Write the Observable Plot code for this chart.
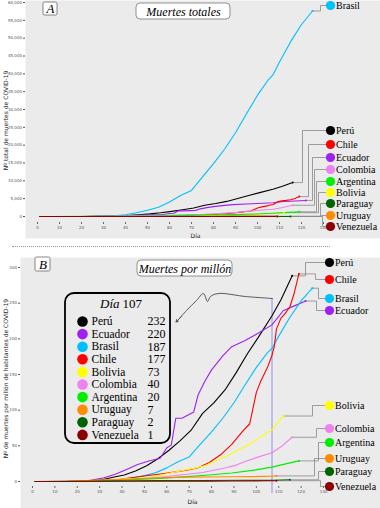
<!DOCTYPE html>
<html><head><meta charset="utf-8">
<script src="https://cdn.jsdelivr.net/npm/d3@7"></script>
<script src="https://cdn.jsdelivr.net/npm/@observablehq/plot@0.6"></script>
<style>
body{margin:0;background:#fff;width:380px;height:508px;overflow:hidden;position:relative}
#a{position:absolute;left:0;top:0}
#sep{position:absolute;left:12px;top:246px;width:318px;border-top:1px dotted #999}
#b{position:absolute;left:0;top:250px}
</style></head><body>
<div id="a"></div><div id="sep"></div><div id="b"></div>
<script>
// ---------- DATA ----------
const paises  = ["Perú","Ecuador","Brasil","Chile","Bolivia","Colombia","Argentina","Uruguay","Paraguay","Venezuela"];
const colores = ["#000000","#a020f0","#00bfff","#ff0000","#ffff00","#ee82ee","#00ee00","#ff8c00","#006400","#8b0000"];
const valoresDia107 = [232,220,187,177,73,40,20,7,2,1];
const ticksX = [0,10,20,30,40,50,60,70,80,90,100,110,120,130];
const ticksYA = [0,5000,10000,15000,20000,25000,30000,35000,40000,45000,50000,55000,60000];
const ticksYB = [0,50,100,150,200,250,300];

const dias_brasil    = [1,20,25,30,35,40,45,50,55,60,65,70,75,80,85,90,95,100,105,107,110,115,120,125];
const muertes_brasil = [0,0,18,77,201,486,1056,1736,2587,4057,5901,7321,11123,14817,18859,23473,28834,34021,38406,39680,43332,48954,53830,57622];
const pm_brasil      = [0,0,0.1,0.4,0.9,2.3,5.0,8.2,12.2,19.1,27.8,34.4,52.3,69.7,88.7,110.4,135.6,160.0,180.6,186.6,203.8,230.3,253.2,271];

const dias_peru    = [1,14,20,26,31,36,41,46,51,56,61,66,71,76,81,86,91,96,101,107,111,116];
const muertes_peru = [0,1,7,24,83,193,300,484,728,1051,1444,1889,2392,3148,3629,4230,5031,5903,6688,7660,8404,9504];
const pm_peru      = [0,0.03,0.2,0.7,2.5,5.9,9.1,14.7,22.1,31.9,43.8,57.3,72.5,95.5,110.1,128.3,152.6,179.0,202.8,232.3,254.9,288.3];

const dias_ecuador    = [1,14,21,26,32,37,42,47,52,57,60,62,64,67,72,74,77,80,85,89,95,100,107,112,117,122];
const muertes_ecuador = [0,2,5,29,93,180,297,421,507,576,835,900,1564,1569,1717,2145,2480,2760,3108,3334,3486,3642,3874,4223,4343,4502];
const pm_ecuador      = [0,0.1,0.3,1.6,5.3,10.2,16.8,23.9,28.7,32.7,47.3,51.0,88.7,88.9,97.3,121.6,140.6,156.5,176.2,189.0,197.6,206.5,219.6,239.4,246.2,253];

const dias_chile    = [1,19,29,39,49,59,69,74,79,84,89,94,97,98,100,102,105,107,108,109,111,113,115,117,119];
const muertes_chile = [0,1,12,57,139,216,304,368,509,716,997,1356,1541,1816,2390,2696,3060,3383,3615,4093,4380,4512,4685,5068,5575];
const pm_chile      = [0,0.05,0.6,3.0,7.3,11.3,15.9,19.2,26.6,37.4,52.1,70.9,80.6,95,125,141,160,177,189,214,229,236,245,265,291];

const dias_colombia    = [1,16,26,36,46,56,66,76,86,91,96,101,107,111,116];
const muertes_colombia = [0,1,16,100,179,278,463,640,967,1170,1475,1755,2045,2473,3155];
const pm_colombia      = [0,0.02,0.3,2.0,3.5,5.5,9.1,12.6,19.0,23.0,29.0,34.5,40.2,48.6,62.0];

const dias_argentina    = [1,5,29,39,49,59,69,79,89,99,107,114,119];
const muertes_argentina = [0,1,27,83,147,214,314,416,539,717,913,1150,1307];
const pm_argentina      = [0,0.02,0.6,1.8,3.3,4.7,6.9,9.2,11.9,15.9,20.2,25.4,28.9];

const dias_bolivia    = [1,20,32,42,52,62,72,77,82,87,92,97,102,107,112];
const muertes_bolivia = [0,1,20,43,62,142,215,257,343,420,514,609,734,846,1071];
const pm_bolivia      = [0,0.1,1.7,3.7,5.3,12.2,18.4,22,29.4,36,44,52.2,62.9,72.5,91.8];

const dias_uruguay    = [1,16,29,39,49,59,69,79,89,99,107,109];
const muertes_uruguay = [0,1,7,10,15,19,21,22,23,24,26,27];
const pm_uruguay      = [0,0.3,2.0,2.9,4.3,5.5,6.1,6.3,6.6,6.9,7.5,7.8];

const dias_paraguay    = [1,14,25,35,45,55,75,95,107,115];
const muertes_paraguay = [0,1,3,6,8,9,11,13,13,17];
const pm_paraguay      = [0,0.14,0.4,0.8,1.1,1.3,1.5,1.8,1.8,2.4];

const dias_venezuela    = [1,14,29,49,69,79,89,99,107,109];
const muertes_venezuela = [0,1,9,10,10,14,22,26,28,31];
const pm_venezuela      = [0,0.04,0.3,0.35,0.35,0.5,0.8,0.9,1.0,1.1];

// ---------- LAYOUT ----------
const series = {
  "Perú":[dias_peru,muertes_peru,pm_peru],
  "Ecuador":[dias_ecuador,muertes_ecuador,pm_ecuador],
  "Brasil":[dias_brasil,muertes_brasil,pm_brasil],
  "Chile":[dias_chile,muertes_chile,pm_chile],
  "Bolivia":[dias_bolivia,muertes_bolivia,pm_bolivia],
  "Colombia":[dias_colombia,muertes_colombia,pm_colombia],
  "Argentina":[dias_argentina,muertes_argentina,pm_argentina],
  "Uruguay":[dias_uruguay,muertes_uruguay,pm_uruguay],
  "Paraguay":[dias_paraguay,muertes_paraguay,pm_paraguay],
  "Venezuela":[dias_venezuela,muertes_venezuela,pm_venezuela]
};
const serif = "'Liberation Serif','DejaVu Serif',serif";
const sans = "'DejaVu Sans',sans-serif";
const bg = "#ebebeb";
const color = {domain: paises, range: colores};

// label slots (pixel y) and elbow x (pixel)
const slotsA = {"Brasil":[5,320],"Perú":[130,302],"Chile":[144,308],"Ecuador":[157,312],"Colombia":[169,314],"Argentina":[181,316],"Bolivia":[192,318],"Paraguay":[203,320],"Uruguay":[215,321],"Venezuela":[226,322]};
const slotsB = {"Perú":[12,305],"Chile":[29,315],"Brasil":[48,318],"Ecuador":[60,316],"Bolivia":[155,312],"Colombia":[178,316],"Argentina":[192,318],"Uruguay":[208,314],"Paraguay":[221,318],"Venezuela":[236,320]};

function panel(k, opts) {
  const {xr, yd, yr, height, mL, mT, mB, insB, ticksY, fmt, slots, labX, ylab, ylabY, diaX, diaY, letter, letterBox, title, titleBox} = opts;
  const sx = d3.scaleLinear([0,130], xr), sy = d3.scaleLinear(yd, yr);
  const ix = p => sx.invert(p), iy = p => sy.invert(p);
  const filas = paises.flatMap(p => series[p][0].map((d,i)=>({pais:p, dia:d, v:series[p][k][i]})));
  const ult = paises.map(p => {const s=series[p]; const n=s[0].length-1; return {pais:p, dia:s[0][n], v:s[k][n]};});
  const conn = ult.flatMap(e => {const [py,px]=slots[e.pais]; return [
    {pais:e.pais, x:e.dia, y:e.v},{pais:e.pais, x:ix(px), y:e.v},{pais:e.pais, x:ix(px), y:iy(py)},{pais:e.pais, x:ix(labX-4), y:iy(py)}];});
  const labs = paises.map(p => ({pais:p, y: iy(slots[p][0])}));
  const marks = [
    Plot.frame({fill: bg, insetBottom: insB}),
    Plot.axisX({ticks: ticksX, tickSize: 2, tickPadding: 2, fontSize: 4, fontFamily: sans, stroke:"#666", color:"#555"}),
    Plot.axisY({ticks: ticksY, tickFormat: fmt, tickSize: 2, tickPadding: 1.5, fontSize: 4, fontFamily: sans, color:"#555"}),
    Plot.text(["Día"], {x: ix(diaX), y: iy(diaY), fontSize: 6, fontFamily: sans, fill:"#222"}),
    Plot.text([ylab], {x: ix(6), y: iy(ylabY), rotate: -90, fontSize: 6, fontFamily: sans, fill:"#222"}),
    ...(opts.extraBelow ? opts.extraBelow(ix, iy) : []),
    Plot.line(conn, {x:"x", y:"y", z:"pais", stroke:"#888", strokeWidth:0.8}),
    Plot.line(filas, {x:"dia", y:"v", z:"pais", stroke:"pais", strokeWidth:1.1}),
    Plot.dot(ult, {x:"dia", y:"v", r:1, fill:"pais"}),
    Plot.dot(labs, {x: ix(labX), y:"y", r:4.6, fill:"pais"}),
    Plot.text(labs, {x: ix(labX+5.5), y:"y", text:"pais", textAnchor:"start", fontSize:10, fontFamily: serif, fill:"#000"}),
    Plot.rect([0], {x1: ix(letterBox[0]), x2: ix(letterBox[1]), y1: iy(letterBox[3]), y2: iy(letterBox[2]), fill:"white", stroke:"#555", strokeWidth:0.7, rx:1.5}),
    Plot.text([letter], {x: ix((letterBox[0]+letterBox[1])/2), y: iy((letterBox[2]+letterBox[3])/2), fontStyle:"italic", fontSize: 13, fontFamily: serif, fill:"#000"}),
    Plot.rect([0], {x1: ix(titleBox[0]), x2: ix(titleBox[1]), y1: iy(titleBox[3]), y2: iy(titleBox[2]), fill:"white", stroke:"#777", strokeWidth:0.8, rx:4}),
    Plot.text([title], {x: ix((titleBox[0]+titleBox[1])/2), y: iy((titleBox[2]+titleBox[3])/2+0.5), fontStyle:"italic", fontSize: 12, fontFamily: serif, fill:"#000"}),
    ...(opts.extra ? opts.extra(ix, iy) : [])
  ];
  return Plot.plot({
    width: 380, height, marginLeft: mL, marginRight: 0, marginTop: mT, marginBottom: mB,
    style: {background: "transparent", overflow: "visible"},
    x: {domain:[0,130], range: xr, axis: null},
    y: {domain: yd, range: yr, axis: null},
    color,
    marks
  });
}

const plotA = panel(1, {
  xr:[37,323], yd:[0,60000], yr:[216,2], height:245, mL:25, mT:0, mB:23, insB:-16,
  ticksY: ticksYA, fmt: d3.format(","), slots: slotsA, labX:330,
  ylab:"Nº total de muertes de COVID-19", ylabY:120, diaX:195, diaY:236,
  letter:"A", letterBox:[43,57,2,15], title:"Muertes totales", titleBox:[136,230,3,19]
});

const plotB = panel(2, {
  xr:[32,323], yd:[0,300], yr:[231,17], height:258, mL:20, mT:7, mB:22, insB:-22,
  ticksY: ticksYB, fmt: d3.format("d"), slots: slotsB, labX:329,
  ylab:"Nº de muertes por millón de habitantes de COVID-19", ylabY:128, diaX:192, diaY:252,
  letter:"B", letterBox:[35,50,7,21], title:"Muertes por millón", titleBox:[137,232,10,26],
  extraBelow: (ix, iy) => [
    Plot.ruleX([107], {y1: iy(243), y2: iy(48), stroke:"#9090ee", strokeWidth:1})
  ],
  extra: (ix, iy) => {
    const rows = paises.map((p,i)=>({pais:p, val: valoresDia107[i], y: iy(71 + i*12.6)}));
    const sq = [[272,48],[245,46],[218,43],[210,46],[207,51],[203,43],[196,50],[186,60],[179,68]].map(([a,b])=>({x:ix(a), y:iy(b)}));
    return [
      Plot.rect([0], {x1: ix(65), x2: ix(170), y1: iy(193), y2: iy(43), fill:"none", stroke:"#000", strokeWidth:1.8, rx:9}),
      Plot.text(["Día"], {x: ix(119), y: iy(53), textAnchor:"end", fontStyle:"italic", fontSize:13, fontFamily: serif, fill:"#000"}),
      Plot.text(["107"], {x: ix(122), y: iy(53), textAnchor:"start", fontSize:13, fontFamily: serif, fill:"#000"}),
      Plot.dot(rows, {x: ix(82), y:"y", r:5.3, fill:"pais"}),
      Plot.text(rows, {x: ix(91), y:"y", text:"pais", textAnchor:"start", fontSize:11.5, fontFamily: serif, fill:"#000"}),
      Plot.text(rows, {x: ix(147), y:"y", text:"val", textAnchor:"start", fontSize:12, fontFamily: serif, fill:"#000"}),
      Plot.line(sq, {x:"x", y:"y", curve:"catmull-rom", stroke:"#333", strokeWidth:0.8}),
      Plot.arrow([0], {x1: ix(181), y1: iy(66), x2: ix(175.5), y2: iy(71.5), stroke:"#333", strokeWidth:0.8, headLength:5})
    ];
  }
});

document.getElementById("a").append(plotA);
document.getElementById("b").append(plotB);
</script>
</body></html>
